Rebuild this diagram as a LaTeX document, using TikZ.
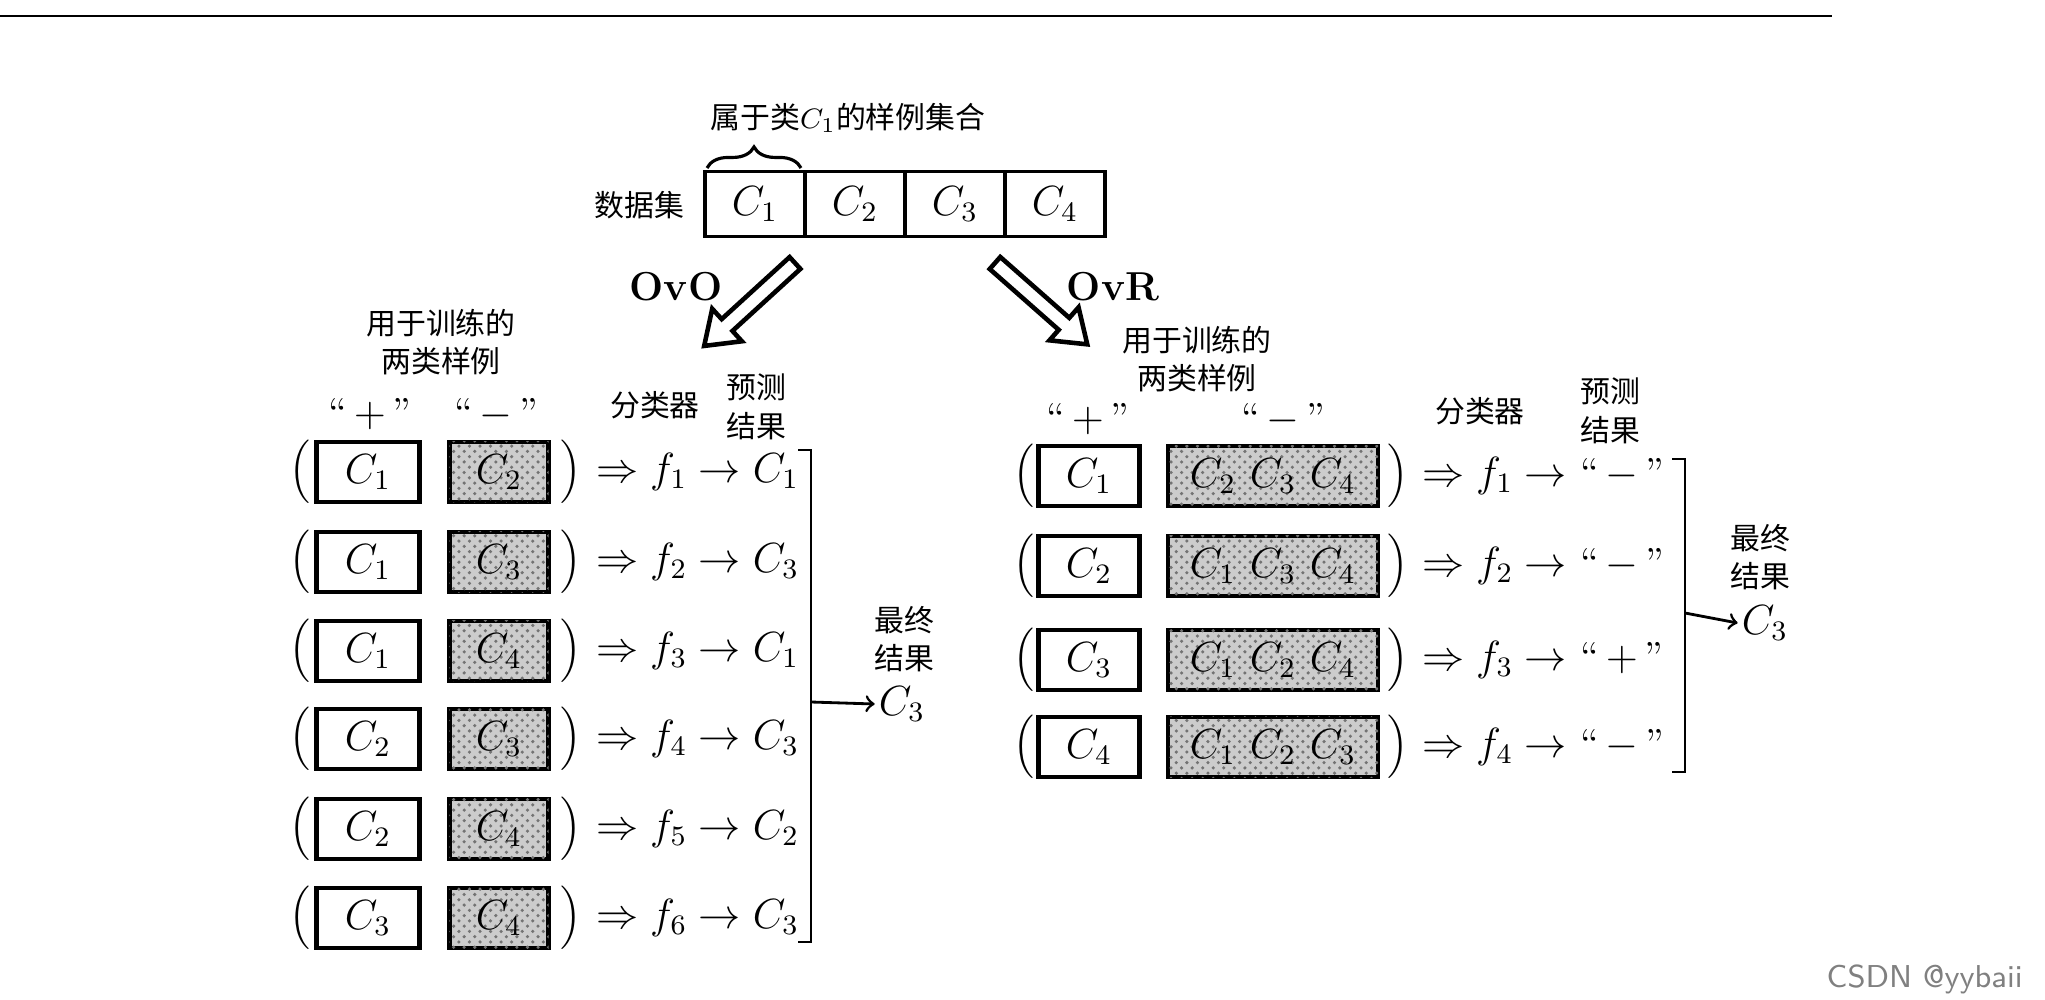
\documentclass[tikz,border=0pt]{standalone}
\usepackage{fontspec}
\newfontfamily\cjk{Noto Sans CJK SC}
\usetikzlibrary{patterns,decorations.pathreplacing}
\begin{document}
\begin{tikzpicture}[x=0.01cm,y=-0.01cm,
  mth/.style={font=\fontsize{11.5}{14}\selectfont,inner sep=1pt},
  cn/.style={font=\cjk\fontsize{8.5}{11}\selectfont,align=center,inner sep=0pt},
  pbox/.style={draw,line width=1.3pt,minimum height=0.6cm,inner sep=0pt,font=\fontsize{12}{14}\selectfont},
  mbox/.style={pbox,fill=gray!40,postaction={pattern=crosshatch dots,pattern color=black!55}},
  par/.style={font=\fontsize{12}{14}\selectfont,inner sep=0pt},
  fat/.style={line width=1.3pt,fill=white,line join=miter}]
\useasboundingbox (0,0) rectangle (2045,1000);
\draw[line width=0.8pt] (0,16) -- (1832,16);
% dataset
\foreach \i in {1,...,4}{
  \node[pbox,line width=1.1pt,minimum width=1cm,minimum height=0.65cm] (d\i) at (705+50+100*\i-100,204) {$C_\i$};}
\node[cn,anchor=east] (ds) at (685,205) {数据集};
\draw[decorate,decoration={brace,amplitude=6pt},line width=0.9pt] (707,168) -- (801,168);
\node[cn] (bl) at (848,118) {属于类$C_1$的样例集合};
% big arrows
\begin{scope}[shift={(795,263)},rotate=222.4]
  \draw[fat] (0,-8)--(92,-8)--(92,-22)--(123,0)--(92,22)--(92,8)--(0,8)--cycle;
\end{scope}
\begin{scope}[shift={(995,263)},rotate=-41.4]
  \draw[fat] (0,-8)--(92,-8)--(92,-22)--(123,0)--(92,22)--(92,8)--(0,8)--cycle;
\end{scope}
\node[font=\bfseries\fontsize{11.5}{14}\selectfont] (ovo) at (676,287) {OvO};
\node[font=\bfseries\fontsize{11.5}{14}\selectfont] (ovr) at (1113,287) {OvR};
% left headers
\node[cn] (lh) at (441,342) {用于训练的\\两类样例};
\node[mth] (lplus) at (370,414) {``\,$+$\,''};
\node[mth] (lminus) at (496,414) {``\,$-$\,''};
\node[cn] (lcls) at (655,405) {分类器};
\node[cn] (lpred) at (756,407) {预测\\结果};
\foreach \y/\p/\m/\f/\r [count=\i] in {472/1/2/1/1,562/1/3/2/3,651/1/4/3/1,739/2/3/4/3,829/2/4/5/2,918/3/4/6/3}{
  \node[pbox,minimum width=1.03cm] (lp\i) at (368,\y) {$C_\p$};
  \node[mbox,minimum width=0.99cm] (lm\i) at (499,\y) {$C_\m$};
  \node[par] (lo\i) at (300,\y) {$\Big($};
  \node[par] (lc\i) at (571,\y) {$\Big)$};
  \node[mth,anchor=west] (lr\i) at (592,\y) {$\Rightarrow f_\f \rightarrow C_\r$};
}
\coordinate (lbt) at (798,450); \coordinate (lbb) at (798,942); \coordinate (lbm) at (811,702);
\draw[line width=0.8pt] (lbt) -- ++(13,0) |- (lbb);
\node[cn] (lfin) at (904,639) {最终\\结果};
\node[mth] (lres) at (902,704) {$C_3$};
\draw[->,line width=0.8pt] (lbm) -- (lres.west);
% right
\node[cn] (rh) at (1197,359) {用于训练的\\两类样例};
\node[mth] (rplus) at (1088,419) {``\,$+$\,''};
\node[mth] (rminus) at (1283,419) {``\,$-$\,''};
\node[cn] (rcls) at (1480,411) {分类器};
\node[cn] (rpred) at (1610,411) {预测\\结果};
\foreach \y/\p/\m/\q [count=\i] in {476/1/{C_2\ C_3\ C_4}/-,566/2/{C_1\ C_3\ C_4}/-,660/3/{C_1\ C_2\ C_4}/+,747/4/{C_1\ C_2\ C_3}/-}{
  \node[pbox,minimum width=1.01cm] (rp\i) at (1089,\y) {$C_\p$};
  \node[mbox,minimum width=2.1cm] (rm\i) at (1273,\y) {$\m$};
  \node[par] (ro\i) at (1024,\y) {$\Big($};
  \node[par] (rc\i) at (1398,\y) {$\Big)$};
  \node[mth,anchor=west] (rr\i) at (1418,\y) {$\Rightarrow f_\i \rightarrow$ ``\,$\q$\,''};
}
\coordinate (rbt) at (1672,459); \coordinate (rbb) at (1672,772); \coordinate (rbm) at (1685,613);
\draw[line width=0.8pt] (rbt) -- ++(13,0) |- (rbb);
\node[cn] (rfin) at (1760,557) {最终\\结果};
\node[mth] (rres) at (1765,623) {$C_3$};
\draw[->,line width=0.8pt] (rbm) -- (rres.west);
\node[font=\fontsize{9}{10}\selectfont\sffamily,text=gray,anchor=east] (wm) at (2035,979) {CSDN @yybaii};
\end{tikzpicture}
\end{document}
